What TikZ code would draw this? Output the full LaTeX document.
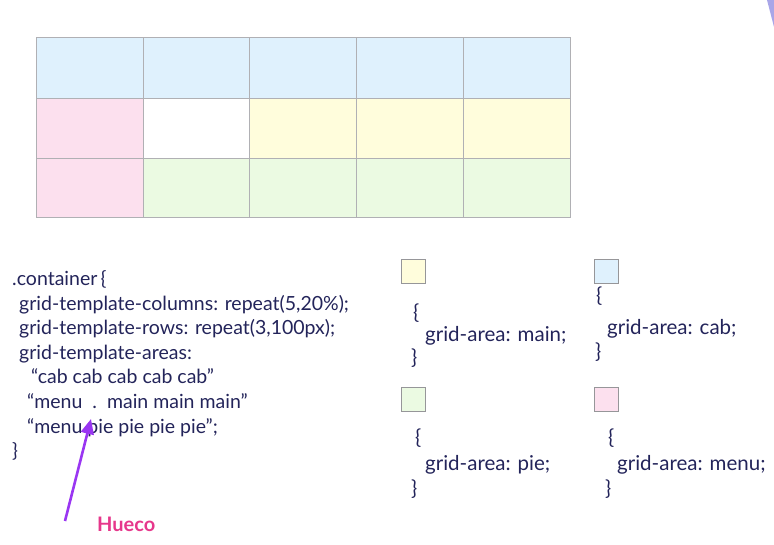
\documentclass[tikz,border=0pt]{standalone}
\usepackage{fontspec}
\setmainfont{Lato}
\usetikzlibrary{arrows.meta}
\definecolor{codeink}{HTML}{23245A}
\definecolor{cabfill}{HTML}{DFF1FD}
\definecolor{menufill}{HTML}{FCE0EE}
\definecolor{mainfill}{HTML}{FFFDDC}
\definecolor{piefill}{HTML}{EBFAE2}
\definecolor{cellline}{HTML}{B0B0B4}
\definecolor{huecoink}{HTML}{E6378B}
\definecolor{arrowink}{HTML}{9A36F2}
\definecolor{cornerink}{HTML}{A9A6E8}

\begin{document}
\begin{tikzpicture}[x=1pt,y=-1pt,font=\fontsize{19.5}{23}\selectfont,
 code/.style={anchor=base west,text=codeink,inner sep=0pt},
 rule/.style={code,font=\fontsize{20.5}{24}\selectfont},
 swatch/.style={draw=cellline!85!black,line width=.9pt,minimum size=24pt,inner sep=0pt,anchor=north west},
 cell/.style={draw=cellline,line width=1pt},
 ar/.style={-{Triangle[length=15pt,width=13pt]},line width=2.6pt,draw=arrowink}]
\useasboundingbox (0,0) rectangle (774,545);
\fill[cornerink] (767,0) -- (774,0) -- (774,27) -- cycle;
% grid of areas
\fill[cabfill] (36,38) rectangle (570,99);
\fill[menufill] (36,99) rectangle (143,218);
\fill[mainfill] (249,99) rectangle (570,159);
\fill[piefill] (143,159) rectangle (570,218);
\draw[cell] (36,38) rectangle (570,218);
\foreach \gx in {143,249,356,463} \draw[cell] (\gx,38) -- (\gx,218);
\foreach \gy in {99,159} \draw[cell] (36,\gy) -- (570,\gy);
% container rules
\node[code] (cont) at (12,286) {.container\,\{};
\node[code] (cols) at (19,310.5) {grid-template-columns: repeat(5,20\%);};
\node[code] (rows) at (19,335) {grid-template-rows: repeat(3,100px);};
\node[code] (areas) at (19,359.5) {grid-template-areas:};
\node[code] (rowcab) at (31,384) {“cab cab cab cab cab”};
\node[code] (rowmain) at (27,408.5) {“menu\ \ .\ \ main main main”};
\node[code] (rowpie) at (27,433) {“menu pie pie pie pie”;};
\node[code] (contend) at (12,457.5) {\}};
% area swatches
\node[swatch,fill=mainfill] (swmain) at (401,259) {};
\node[swatch,fill=cabfill] (swcab) at (594,259) {};
\node[swatch,fill=piefill] (swpie) at (401,387) {};
\node[swatch,fill=menufill] (swmenu) at (594,387) {};
\node[rule] (mainopen) at (413,320) {\{};
\node[rule] (mainrule) at (425,342) {grid-area: main;};
\node[rule] (mainclose) at (411,364) {\}};
\node[rule] (cabopen) at (596,303) {\{};
\node[rule] (cabrule) at (607,335) {grid-area: cab;};
\node[rule] (cabclose) at (595,359) {\}};
\node[rule] (pieopen) at (415,444) {\{};
\node[rule] (pierule) at (425,470) {grid-area: pie;};
\node[rule] (pieclose) at (411,495) {\}};
\node[rule] (menuopen) at (608,444) {\{};
\node[rule] (menurule) at (617,470) {grid-area: menu;};
\node[rule] (menuclose) at (605,495) {\}};
% gap marker
\node[anchor=base west,text=huecoink,font=\bfseries\fontsize{20}{24}\selectfont,inner sep=0pt] (hueco) at (97,531) {Hueco};
\coordinate (tail) at (65,521);
\coordinate (gap) at (91,419);
\draw[ar] (tail) -- (gap);
\end{tikzpicture}
\end{document}
